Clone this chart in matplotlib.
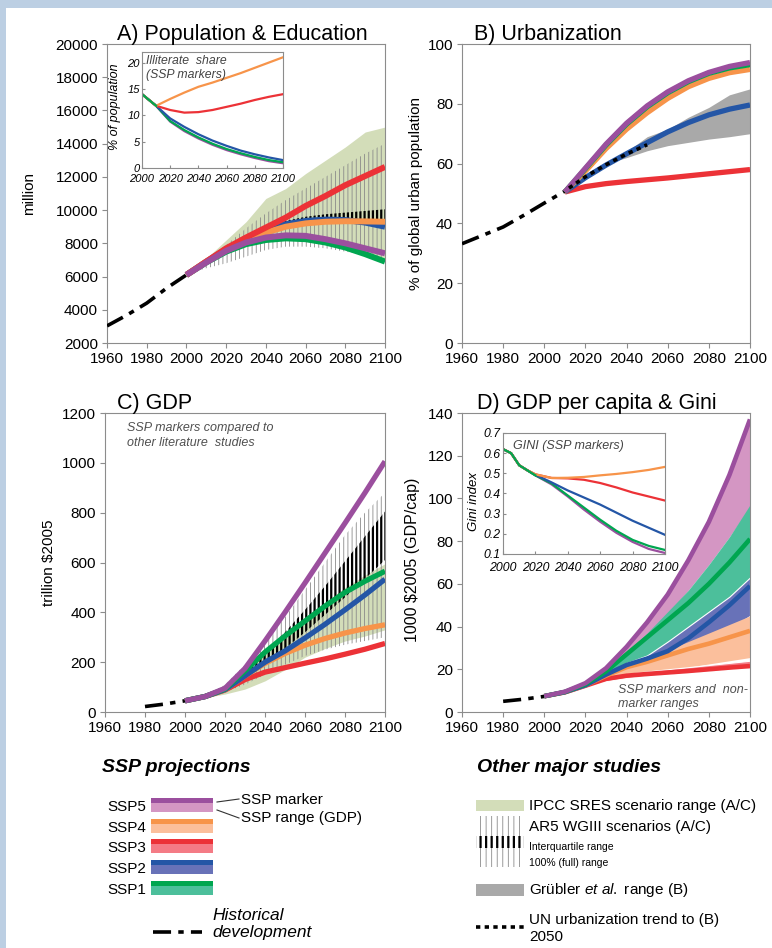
import matplotlib.pyplot as plt
from matplotlib.patches import Rectangle

plt.rcParams['font.family'] = ['Liberation Sans', 'DejaVu Sans']
plt.rcParams['mathtext.fontset'] = 'custom'
plt.rcParams['mathtext.rm'] = 'Liberation Sans'
plt.rcParams['mathtext.it'] = 'Liberation Sans:italic'
plt.rcParams['lines.solid_joinstyle'] = 'round'

# colours
C5, C5R = '#9b4f9e', '#d496c3'
C4, C4R = '#f7944a', '#fbbf9c'
C3, C3R = '#ec3237', '#f47b85'
C2, C2R = '#2456a6', '#6872b8'
C1, C1R = '#00a650', '#4cbf9b'
SRES = '#d3ddb9'
GRUB = '#a9a9a9'
AR5_THIN = '#8a8a8a'

# ---------------- A) population (million) ----------------
hist_pop_years = [1960, 1970, 1980, 1990, 2000]
hist_pop = [3030, 3680, 4400, 5300, 6100]

pop_years = [2000, 2010, 2020, 2030, 2040, 2050, 2060, 2070, 2080, 2090, 2100]
pop_ssp1 = [6100, 6850, 7500, 7950, 8200, 8300, 8250, 8050, 7750, 7350, 6900]
pop_ssp2 = [6100, 6900, 7650, 8300, 8800, 9150, 9350, 9430, 9400, 9250, 9000]
pop_ssp3 = [6100, 6900, 7700, 8350, 8950, 9550, 10250, 10850, 11500, 12050, 12600]
pop_ssp4 = [6100, 6900, 7600, 8200, 8650, 9000, 9200, 9300, 9330, 9320, 9300]
pop_ssp5 = [6100, 6850, 7550, 8050, 8350, 8480, 8450, 8250, 8000, 7700, 7400]

sres_pop_lo = [6100, 6800, 7400, 7900, 8200, 8300, 8300, 8100, 7800, 7400, 7000]
sres_pop_hi = [6100, 7100, 8200, 9300, 10700, 11300, 12200, 13000, 13800, 14700, 15000]

ar5_pop_years = [2005, 2010, 2020, 2030, 2040, 2050, 2060, 2070, 2080, 2090, 2100]
ar5_pop_lo = [6300, 6500, 6800, 7200, 7600, 7800, 7800, 7700, 7500, 7300, 7100]
ar5_pop_hi = [6500, 7000, 7900, 8900, 9800, 10600, 11300, 12000, 12700, 13400, 14000]
ar5_pop_q1 = [6450, 6850, 7550, 8200, 8700, 9100, 9300, 9350, 9350, 9350, 9300]
ar5_pop_q3 = [6480, 6950, 7700, 8400, 8950, 9350, 9600, 9750, 9850, 9950, 10050]

# inset: illiterate share (% of population)
ill_years = [2000, 2010, 2020, 2030, 2040, 2050, 2060, 2070, 2080, 2090, 2100]
ill_ssp1 = [14, 11.8, 8.9, 7.2, 5.8, 4.6, 3.6, 2.8, 2.1, 1.5, 1.1]
ill_ssp2 = [14, 11.8, 9.4, 7.8, 6.4, 5.2, 4.2, 3.3, 2.6, 2.0, 1.5]
ill_ssp3 = [14, 11.8, 11.0, 10.5, 10.6, 11.0, 11.6, 12.2, 12.9, 13.5, 14.0]
ill_ssp4 = [14, 11.8, 13.1, 14.3, 15.4, 16.2, 17.1, 18.0, 19.0, 20.0, 21.0]
ill_ssp5 = [14, 11.8, 8.8, 7.0, 5.6, 4.4, 3.4, 2.6, 1.9, 1.3, 0.9]

# ---------------- B) urbanization (%) ----------------
hist_urb_years = [1960, 1970, 1980, 1990, 2000, 2010]
hist_urb = [33.2, 36.0, 38.8, 42.7, 46.8, 50.8]

urb_years = [2010, 2020, 2030, 2040, 2050, 2060, 2070, 2080, 2090, 2100]
urb_ssp1 = [50.5, 58.3, 66.2, 73.2, 79.0, 83.7, 87.4, 90.2, 92.0, 93.1]
urb_ssp2 = [50.5, 55.3, 59.5, 63.3, 67.0, 70.6, 73.7, 76.3, 78.2, 79.6]
urb_ssp3 = [50.5, 52.3, 53.3, 54.0, 54.6, 55.2, 55.9, 56.6, 57.3, 58.0]
urb_ssp4 = [50.5, 57.5, 65.0, 71.5, 77.0, 81.8, 85.7, 88.5, 90.4, 91.5]
urb_ssp5 = [50.5, 58.5, 66.5, 73.5, 79.3, 84.0, 87.7, 90.5, 92.5, 93.8]

grub_years = [2035, 2040, 2050, 2060, 2070, 2080, 2090, 2100]
grub_lo = [61.0, 62.0, 64.3, 66.0, 67.1, 68.2, 69.0, 70.0]
grub_hi = [61.5, 64.0, 69.0, 71.5, 75.5, 78.8, 83.0, 85.0]

un_years = [2012, 2020, 2030, 2040, 2050]
un_urb = [51.8, 55.6, 59.6, 63.2, 66.3]

# ---------------- C) GDP (trillion $2005) ----------------
hist_gdp_years = [1980, 1990, 2000]
hist_gdp = [22, 32, 45]

gdp_years = [2000, 2010, 2020, 2030, 2040, 2050, 2060, 2070, 2080, 2090, 2100]
gdp_ssp1 = [45, 62, 92, 165, 240, 305, 365, 425, 480, 525, 565]
gdp_ssp2 = [45, 62, 90, 145, 200, 245, 297, 352, 410, 470, 533]
gdp_ssp3 = [45, 62, 88, 130, 160, 178, 196, 213, 232, 252, 275]
gdp_ssp4 = [45, 62, 90, 145, 195, 235, 268, 295, 317, 335, 350]
gdp_ssp5 = [45, 62, 95, 175, 285, 400, 518, 638, 758, 880, 1006]

sres_gdp_lo = [45, 58, 72, 92, 125, 170, 220, 255, 285, 305, 330]
sres_gdp_hi = [45, 66, 110, 170, 240, 310, 380, 440, 500, 550, 595]

ar5_gdp_years = [2010, 2020, 2030, 2040, 2050, 2060, 2070, 2080, 2090, 2100]
ar5_gdp_lo = [62, 80, 110, 150, 190, 225, 250, 270, 285, 300]
ar5_gdp_hi = [64, 110, 190, 280, 380, 490, 600, 710, 800, 880]
ar5_gdp_q1 = [62, 92, 160, 200, 255, 320, 390, 460, 535, 610]
ar5_gdp_q3 = [63, 98, 175, 240, 320, 410, 505, 605, 705, 805]

# ---------------- D) GDP per capita (1000 $2005/cap) ----------------
hist_pc_years = [1980, 1990, 2000]
hist_pc = [5.0, 6.0, 7.3]

pc_years = [2000, 2010, 2020, 2030, 2040, 2050, 2060, 2070, 2080, 2090, 2100]
pc_ssp1 = [7.4, 9.4, 13.0, 19.0, 27.0, 35.0, 43.0, 51.0, 60.0, 70.0, 81.0]
pc_ssp2 = [7.4, 9.3, 12.5, 17.5, 22.0, 25.0, 28.5, 34.5, 42.0, 50.0, 59.0]
pc_ssp3 = [7.4, 9.2, 12.3, 15.5, 17.0, 17.8, 18.5, 19.2, 20.0, 20.8, 21.5]
pc_ssp4 = [7.4, 9.3, 12.5, 17.0, 21.0, 23.5, 26.5, 29.5, 32.0, 35.0, 38.0]
pc_ssp5 = [7.4, 9.5, 13.5, 20.5, 30.5, 42.0, 55.0, 71.0, 89.0, 111.0, 137.0]

rng_years = [2020, 2030, 2040, 2050, 2060, 2070, 2080, 2090, 2100]
rng_ssp5_lo = [13.0, 18.5, 26.0, 35.0, 46.0, 57.0, 69.0, 82.0, 96.0]
rng_ssp5_hi = [13.5, 20.5, 30.5, 42.0, 55.0, 71.0, 89.0, 111.0, 137.0]
rng_ssp1_lo = [13.0, 17.0, 21.5, 26.5, 31.0, 37.0, 44.0, 52.0, 62.0]
rng_ssp1_hi = [13.5, 19.5, 28.0, 37.0, 47.0, 57.0, 69.0, 82.0, 97.0]
rng_ssp2_lo = [12.5, 16.0, 19.5, 22.0, 25.0, 29.0, 34.0, 39.0, 45.0]
rng_ssp2_hi = [12.8, 17.8, 23.0, 26.5, 33.0, 40.0, 47.0, 54.0, 63.0]
rng_ssp4_lo = [12.3, 15.0, 16.5, 18.0, 19.5, 21.0, 22.5, 24.0, 25.5]
rng_ssp4_hi = [12.8, 17.0, 21.5, 25.0, 29.0, 33.0, 37.0, 41.0, 45.0]
rng_ssp3_lo = [12.2, 14.5, 16.0, 17.0, 17.7, 18.5, 19.2, 20.0, 20.8]
rng_ssp3_hi = [12.4, 15.8, 17.8, 19.0, 20.0, 21.0, 22.0, 23.0, 24.0]

# inset: Gini index
gini_years = [2000, 2005, 2010, 2015, 2020, 2030, 2040, 2050, 2060, 2070, 2080, 2090, 2100]
gini_ssp1 = [.62, .60, .54, .515, .49, .45, .39, .33, .27, .215, .17, .14, .12]
gini_ssp2 = [.62, .60, .54, .515, .493, .455, .415, .38, .345, .305, .265, .23, .195]
gini_ssp3 = [.62, .60, .54, .515, .495, .477, .475, .468, .452, .43, .405, .385, .365]
gini_ssp4 = [.62, .60, .54, .515, .495, .477, .478, .482, .49, .497, .506, .517, .532]
gini_ssp5 = [.62, .60, .54, .515, .49, .445, .385, .32, .26, .205, .16, .125, .105]

years_ticks = list(range(1960, 2101, 20))

W, H = 772, 948
fig = plt.figure(figsize=(W / 100, H / 100), dpi=100)


def px_axes(l, t, r, b):
    return fig.add_axes([l / W, 1 - b / H, (r - l) / W, (b - t) / H])


# page background with light blue frame
bg = fig.add_axes([0, 0, 1, 1])
bg.set_xlim(0, W)
bg.set_ylim(H, 0)
bg.axis('off')
bg.add_patch(Rectangle((0, 0), W, 8, color='#bccfe3', lw=0))
bg.add_patch(Rectangle((0, 0), 6, H, color='#bccfe3', lw=0))


def style(ax, ylim, yticks, size=11):
    ax.set_xlim(1960, 2100)
    ax.set_xticks(years_ticks)
    ax.set_ylim(*ylim)
    ax.set_yticks(yticks)
    for s in ax.spines.values():
        s.set_color('#8c8c8c')
        s.set_linewidth(0.8)
    ax.tick_params(direction='out', length=3.5, width=0.8, color='#8c8c8c',
                   labelsize=size, pad=3)


def inset_style(ax, size, xpad):
    for s in ax.spines.values():
        s.set_color('#8c8c8c')
        s.set_linewidth(0.8)
    ax.tick_params(direction='in', length=2, color='#8c8c8c', labelsize=size, pad=1.5)
    ax.tick_params(axis='x', pad=xpad)
    for lab in ax.get_xticklabels() + ax.get_yticklabels():
        lab.set_fontstyle('italic')


def title(ax, x, txt):
    ax.text(x, 1.013, txt, transform=ax.transAxes, fontsize=15.5, va='baseline')


def hatch_band(ax, x, lo, hi, color, lw, z):
    with plt.rc_context({'hatch.linewidth': lw}):
        ax.fill_between(x, lo, hi, facecolor='none', edgecolor=color,
                        linewidth=0, hatch='||||', zorder=z)


def hist_line(ax, x, y):
    ax.plot(x, y, color='black', lw=2.6, dashes=(5, 2, 1.5, 2), zorder=6)


# ---------------- Panel A ----------------
axA = px_axes(107, 44, 385, 343)
style(axA, (2000, 20000), range(2000, 20001, 2000))
axA.fill_between(pop_years, sres_pop_lo, sres_pop_hi, color=SRES, lw=0, zorder=1)
hatch_band(axA, ar5_pop_years, ar5_pop_lo, ar5_pop_hi, AR5_THIN, 0.6, 2)
hatch_band(axA, ar5_pop_years, ar5_pop_q1, ar5_pop_q3, 'black', 1.6, 3)
hist_line(axA, hist_pop_years, hist_pop)
for y, c in [(pop_ssp1, C1), (pop_ssp2, C2), (pop_ssp4, C4), (pop_ssp3, C3), (pop_ssp5, C5)]:
    axA.plot(pop_years, y, color=c, lw=4.3, zorder=7, solid_capstyle='butt')
axA.set_ylabel('million', fontsize=11)
axA.yaxis.set_label_coords(-0.255, 0.5)
title(axA, 0.036, 'A) Population & Education')

insA = px_axes(142, 52, 283, 168)
insA.set_xlim(2000, 2100)
insA.set_ylim(0, 22)
insA.set_xticks(range(2000, 2101, 20))
insA.set_yticks([0, 5, 10, 15, 20])
inset_style(insA, 8, 4)
for y, c in [(ill_ssp5, C5), (ill_ssp1, C1), (ill_ssp2, C2), (ill_ssp3, C3), (ill_ssp4, C4)]:
    insA.plot(ill_years, y, color=c, lw=1.6)
insA.plot(ill_years[:2], ill_ssp1[:2], color=C1, lw=1.6)
insA.set_ylabel('% of population', fontsize=9, fontstyle='italic')
insA.yaxis.set_label_coords(-0.15, 0.53)
insA.text(0.03, 0.97, 'Illiterate  share\n(SSP markers)', transform=insA.transAxes,
          fontsize=8.8, fontstyle='italic', color='#444444', va='top', linespacing=1.15)

# ---------------- Panel B ----------------
axB = px_axes(462, 44, 750, 343)
style(axB, (0, 100), range(0, 101, 20))
axB.fill_between(grub_years, grub_lo, grub_hi, color=GRUB, lw=0, zorder=1)
hist_line(axB, hist_urb_years, hist_urb)
for y, c in [(urb_ssp3, C3), (urb_ssp2, C2), (urb_ssp4, C4), (urb_ssp1, C1), (urb_ssp5, C5)]:
    axB.plot(urb_years, y, color=c, lw=3.8, zorder=7, solid_capstyle='butt')
axB.plot(un_years, un_urb, color='black', lw=2.6, ls=(0, (1.2, 1.2)), zorder=8)
axB.set_ylabel('% of global urban population', fontsize=11)
axB.yaxis.set_label_coords(-0.136, 0.5)
title(axB, 0.042, 'B) Urbanization')

# ---------------- Panel C ----------------
axC = px_axes(105, 413, 385, 712)
style(axC, (0, 1200), range(0, 1201, 200))
axC.fill_between(gdp_years, sres_gdp_lo, sres_gdp_hi, color=SRES, lw=0, zorder=1)
hatch_band(axC, ar5_gdp_years, ar5_gdp_lo, ar5_gdp_hi, AR5_THIN, 0.6, 2)
hatch_band(axC, ar5_gdp_years, ar5_gdp_q1, ar5_gdp_q3, 'black', 1.6, 3)
hist_line(axC, hist_gdp_years, hist_gdp)
for y, c in [(gdp_ssp3, C3), (gdp_ssp4, C4), (gdp_ssp2, C2), (gdp_ssp1, C1), (gdp_ssp5, C5)]:
    axC.plot(gdp_years, y, color=c, lw=3.8, zorder=7, solid_capstyle='butt')
axC.set_ylabel('trillion $2005', fontsize=11)
axC.yaxis.set_label_coords(-0.175, 0.5)
axC.text(0.08, 0.925, 'SSP markers compared to\nother literature  studies',
         transform=axC.transAxes, fontsize=9, fontstyle='italic', color='#505050',
         va='center', linespacing=1.25)
title(axC, 0.043, 'C) GDP')

# ---------------- Panel D ----------------
axD = px_axes(462, 413, 750, 712)
style(axD, (0, 140), range(0, 141, 20))
for lo, hi, c, e in [(rng_ssp5_lo, rng_ssp5_hi, C5R, 0), (rng_ssp1_lo, rng_ssp1_hi, C1R, 0),
                     (rng_ssp2_lo, rng_ssp2_hi, C2R, 0.8), (rng_ssp4_lo, rng_ssp4_hi, C4R, 0),
                     (rng_ssp3_lo, rng_ssp3_hi, C3R, 0.8)]:
    axD.fill_between(rng_years, lo, hi, facecolor=c, edgecolor='white', lw=e, zorder=1)
hist_line(axD, hist_pc_years, hist_pc)
for y, c in [(pc_ssp3, C3), (pc_ssp4, C4), (pc_ssp2, C2), (pc_ssp1, C1), (pc_ssp5, C5)]:
    axD.plot(pc_years, y, color=c, lw=3.3, zorder=7, solid_capstyle='butt')
axD.set_ylabel('1000 $2005 (GDP/cap)', fontsize=11.5)
axD.yaxis.set_label_coords(-0.145, 0.51)
axD.text(0.54, 0.05, 'SSP markers and  non-\nmarker ranges', transform=axD.transAxes,
         fontsize=9, fontstyle='italic', color='#505050', va='center', linespacing=1.25)
title(axD, 0.052, 'D) GDP per capita & Gini')

insD = px_axes(503, 433, 665, 554)
insD.set_xlim(2000, 2100)
insD.set_ylim(0.1, 0.7)
insD.set_xticks(range(2000, 2101, 20))
insD.set_yticks([0.1, 0.2, 0.3, 0.4, 0.5, 0.6, 0.7])
insD.set_yticklabels(['0.1', '0.2', '0.3', '0.4', '0.5', '0.6', '0.7'])
inset_style(insD, 8.8, 6)
for y, c in [(gini_ssp5, C5), (gini_ssp1, C1), (gini_ssp2, C2), (gini_ssp3, C3), (gini_ssp4, C4)]:
    insD.plot(gini_years, y, color=c, lw=1.6)
insD.plot(gini_years[:5], gini_ssp1[:5], color=C1, lw=1.6)
insD.set_ylabel('Gini index', fontsize=9.5, fontstyle='italic')
insD.yaxis.set_label_coords(-0.14, 0.43)
insD.text(0.06, 0.89, 'GINI (SSP markers)', transform=insD.transAxes,
          fontsize=9, fontstyle='italic', color='#444444', va='center')

# ---------------- legends ----------------
bg.text(102, 767, 'SSP projections', fontsize=14, fontweight='bold', fontstyle='italic', va='center')
bg.text(477, 767, 'Other major studies', fontsize=14, fontweight='bold', fontstyle='italic', va='center')

ssp_names = ['SSP5', 'SSP4', 'SSP3', 'SSP2', 'SSP1']
ssp_dark = [C5, C4, C3, C2, C1]
ssp_light = [C5R, C4R, C3R, C2R, C1R]
for i, (n, d, l) in enumerate(zip(ssp_names, ssp_dark, ssp_light)):
    top = 798 + i * 20.7
    bg.add_patch(Rectangle((151, top), 62, 5, color=d, lw=0))
    bg.add_patch(Rectangle((151, top + 5), 62, 9, color=l, lw=0))
    bg.text(146, top + 9, n, fontsize=11, ha='right', va='center')
bg.plot([217, 239], [802, 799], color='#333333', lw=0.8)
bg.plot([217, 239], [810, 818], color='#333333', lw=0.8)
bg.text(241, 800, 'SSP marker', fontsize=11, va='center')
bg.text(241, 818, 'SSP range (GDP)', fontsize=11, va='center')
bg.plot([153, 202], [932, 932], color='black', lw=2.6, dashes=(5, 2, 1.5, 2))
bg.text(212, 924, 'Historical\ndevelopment', fontsize=12.5, fontstyle='italic', va='center',
        linespacing=1.2)

bg.add_patch(Rectangle((476, 800), 48, 11, color=SRES, lw=0))
bg.text(529, 806, 'IPCC SRES scenario range (A/C)', fontsize=11, va='center')
with plt.rc_context({'hatch.linewidth': 0.6}):
    bg.add_patch(Rectangle((476, 816), 48, 51, facecolor='none', edgecolor=AR5_THIN,
                           lw=0, hatch='|||'))
with plt.rc_context({'hatch.linewidth': 1.6}):
    bg.add_patch(Rectangle((476, 836), 48, 12, facecolor='none', edgecolor='black',
                           lw=0, hatch='|||'))
bg.text(529, 827, 'AR5 WGIII scenarios (A/C)', fontsize=11, va='center')
bg.text(529, 847, 'Interquartile range', fontsize=7.5, va='center')
bg.text(529, 863, '100% (full) range', fontsize=7.5, va='center')
bg.add_patch(Rectangle((476, 884), 48, 12, color=GRUB, lw=0))
bg.text(529, 890, r'Grübler $\mathit{et\ al.}$ range (B)', fontsize=11, va='center')
bg.plot([476, 524], [927, 927], color='black', lw=2.6, ls=(0, (1.2, 1.2)))
bg.text(529, 928.5, 'UN urbanization trend to (B)\n2050', fontsize=11, va='center',
        linespacing=1.2)

fig.savefig('out.png', dpi=100, facecolor='white')
